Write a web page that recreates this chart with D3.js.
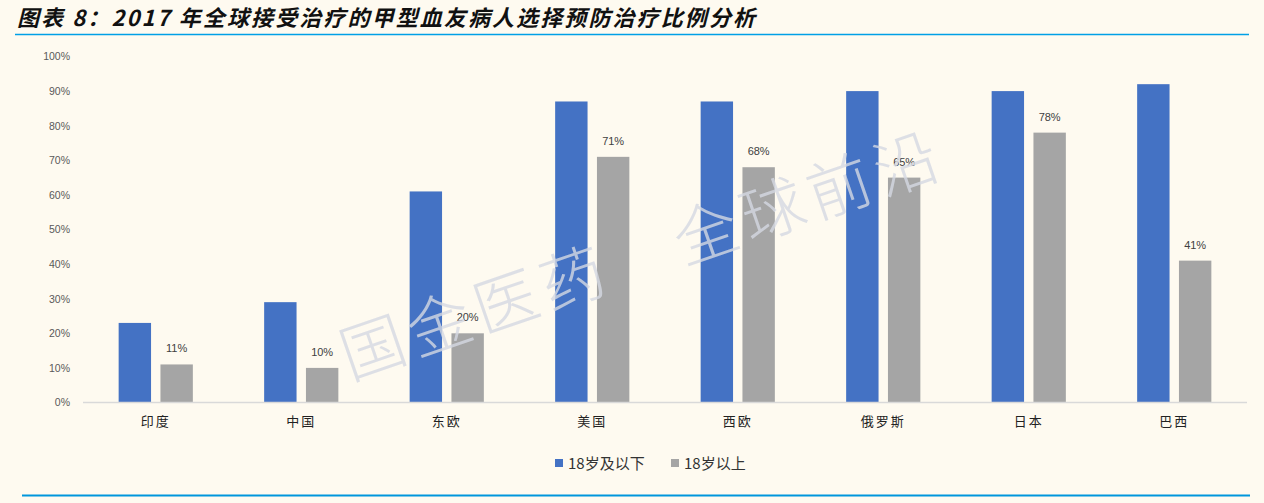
<!DOCTYPE html>
<html>
<head>
<meta charset="utf-8">
<script src="https://cdn.jsdelivr.net/npm/d3@7"></script>
<style>
  html, body { margin: 0; padding: 0; background: #fefaf0; }
  svg { display: block; }
</style>
</head>
<body>
<svg id="chart" width="1264" height="503"></svg>
<script>
const categories = ["印度", "中国", "东欧", "美国", "西欧", "俄罗斯", "日本", "巴西"];
const seriesNames = ["18岁及以下", "18岁以上"];
const under18 = [23, 29, 61, 87, 87, 90, 90, 92];
const over18 = [11, 10, 20, 71, 68, 65, 78, 41];
const yTicks = [0, 10, 20, 30, 40, 50, 60, 70, 80, 90, 100];
const colors = ["#4472c4", "#a5a5a5"];
const titleText = "图表 8：2017 年全球接受治疗的甲型血友病人选择预防治疗比例分析";
const watermarkText = "国金医药　全球前沿";

const svg = d3.select("#chart");
const W = 1264, H = 503;
svg.append("rect").attr("width", W).attr("height", H).attr("fill", "#fefaf0");

// Title
svg.append("text")
  .attr("x", 17).attr("y", 26)
  .attr("font-family", "'Noto Sans CJK SC', sans-serif")
  .attr("font-size", 22)
  .attr("font-weight", "bold")
  .attr("font-style", "italic")
  .attr("fill", "#111")
  .attr("textLength", 738)
  .attr("lengthAdjust", "spacing")
  .text(titleText);

// top and bottom rules
svg.append("line").attr("x1", 15).attr("x2", 1249).attr("y1", 34.5).attr("y2", 34.5)
  .attr("stroke", "#00a0e6").attr("stroke-width", 1.5);
svg.append("line").attr("x1", 22).attr("x2", 1250).attr("y1", 495.5).attr("y2", 495.5)
  .attr("stroke", "#0096dc").attr("stroke-width", 2);

// scales
const x0 = d3.scaleBand().domain(categories).range([83, 1247]).paddingInner(0.49).paddingOuter(0.245);
const x1 = d3.scaleBand().domain(seriesNames).range([0, x0.bandwidth()]).paddingInner(0.225).paddingOuter(0);
const y = d3.scaleLinear().domain([0, 100]).range([402.5, 56.5]);

// y axis tick labels
const yAxis = d3.axisLeft(y).tickValues(yTicks).tickSize(0).tickPadding(0).tickFormat(d => d + "%");
const yg = svg.append("g").attr("transform", "translate(70,0)").call(yAxis);
yg.select(".domain").remove();
yg.selectAll("text")
  .attr("font-family", "'Liberation Sans', Arial, sans-serif")
  .attr("font-size", 10.5)
  .attr("fill", "#595959");

// bars
const rows = categories.map((c, i) => ({ cat: c, vals: [under18[i], over18[i]] }));
const groups = svg.append("g").selectAll("g").data(rows).join("g")
  .attr("transform", d => `translate(${x0(d.cat)},0)`);
groups.selectAll("rect").data(d => d.vals.map((v, j) => ({ name: seriesNames[j], v, j })))
  .join("rect")
  .attr("x", d => x1(d.name))
  .attr("width", x1.bandwidth())
  .attr("y", d => y(d.v))
  .attr("height", d => y(0) - y(d.v))
  .attr("fill", d => colors[d.j]);

// data labels for second series
groups.append("text")
  .attr("x", x1(seriesNames[1]) + x1.bandwidth() / 2)
  .attr("y", d => y(d.vals[1]) - 12)
  .attr("text-anchor", "middle")
  .attr("font-family", "'Liberation Sans', Arial, sans-serif")
  .attr("font-size", 11)
  .attr("fill", "#404040")
  .text(d => d.vals[1] + "%");

// x axis
const xAxis = d3.axisBottom(x0).tickSize(0).tickPadding(14);
const xg = svg.append("g").attr("transform", `translate(0,${y(0)})`).call(xAxis);
xg.select(".domain").attr("stroke", "#d9d9d9").attr("stroke-width", 1.5)
  .attr("d", "M83,0H1247");
xg.selectAll("text")
  .attr("font-family", "'Noto Sans CJK SC', sans-serif")
  .attr("font-size", 13)
  .attr("letter-spacing", 2)
  .attr("fill", "#222");

// legend
const legend = svg.append("g").attr("transform", "translate(555,459)");
const legX = [0, 116];
seriesNames.forEach((n, i) => {
  const g = legend.append("g").attr("transform", `translate(${legX[i]},0)`);
  g.append("rect").attr("width", 8).attr("height", 8).attr("fill", colors[i]);
  g.append("text").attr("x", 13).attr("y", 9.5)
    .attr("font-family", "'Noto Sans CJK SC', sans-serif")
    .attr("font-size", 15)
    .attr("fill", "#333")
    .text(n);
});

// watermark
svg.append("text")
  .attr("transform", "translate(350,380) rotate(-19)")
  .attr("font-family", "'Noto Sans CJK SC', sans-serif")
  .attr("font-size", 64)
  .attr("font-weight", 300)
  .attr("fill", "#d4d8e2")
  .attr("fill-opacity", 0.8)
  .attr("letter-spacing", 6.5)
  .text(watermarkText);
</script>
</body>
</html>
